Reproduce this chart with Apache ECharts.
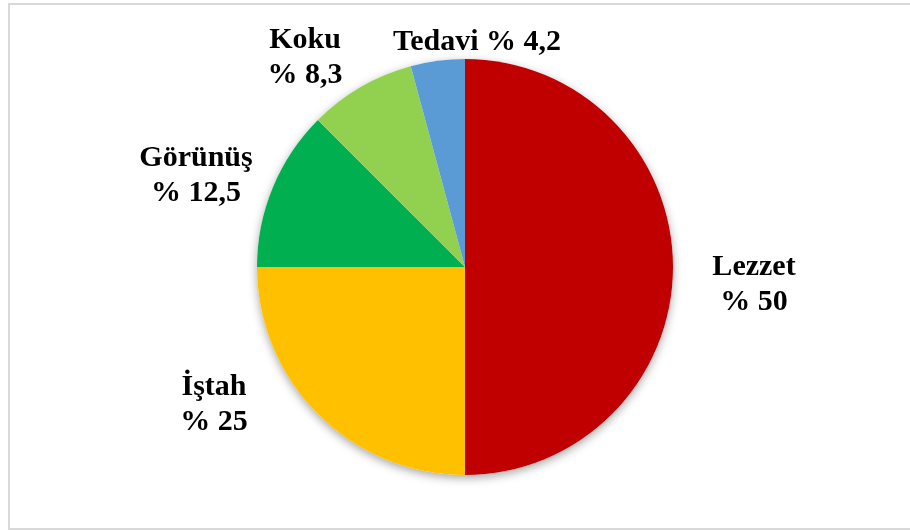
<!DOCTYPE html>
<html>
<head>
<meta charset="utf-8">
<style>
  html, body { margin: 0; padding: 0; background: #ffffff; }
  #chart { width: 910px; height: 531px; }
</style>
<script src="https://cdn.jsdelivr.net/npm/echarts@6/dist/echarts.min.js"></script>
</head>
<body>
<div id="chart"></div>
<script>
// Factors (percent shares), clockwise from 12 o'clock
const categories = ['Lezzet', 'İştah', 'Görünüş', 'Koku', 'Tedavi'];
const shares = [50, 25, 12.5, 8.3, 4.2];
const sliceColors = ['#C00000', '#FFC000', '#00B050', '#92D050', '#5B9BD5'];

const chart = echarts.init(document.getElementById('chart'), null, { renderer: 'canvas' });

const CENTER = [465, 267];
const RADIUS = 208;
const total = shares.reduce((a, b) => a + b, 0);

// Label block centres, given as offsets from the pie centre
const labelOffsets = {
  'Lezzet': [289, 18],
  'İştah': [-251, 138],
  'Görünüş': [-269, -91],
  'Koku': [-160, -209],
  'Tedavi': [12, -225]
};
const singleLine = { 'Tedavi': true };

const fmt = v => String(v).replace('.', ',');

const labelFont = {
  fontFamily: '"Liberation Serif", "Times New Roman", serif',
  fontWeight: 'bold',
  fontSize: 30,
  lineHeight: 35,
  color: '#000000'
};

chart.setOption({
  backgroundColor: '#ffffff',
  animation: false,
  graphic: [{
    type: 'rect',
    silent: true,
    shape: { x: 9, y: 4, width: 905, height: 525 },
    style: { fill: 'none', stroke: '#d9d9d9', lineWidth: 2 },
    z: 0
  }],
  series: [
    {
      // soft drop shadow under the whole disc
      type: 'pie',
      silent: true,
      center: CENTER,
      radius: RADIUS,
      z: 1,
      label: { show: false },
      labelLine: { show: false },
      itemStyle: {
        color: '#ffffff',
        shadowBlur: 10,
        shadowOffsetY: 3,
        shadowColor: 'rgba(0,0,0,0.35)'
      },
      data: [{ value: total, name: '' }]
    },
    {
      type: 'pie',
      center: CENTER,
      radius: RADIUS,
      startAngle: 90,
      clockwise: true,
      z: 2,
      avoidLabelOverlap: false,
      itemStyle: { borderWidth: 0 },
      label: Object.assign({
        show: true,
        position: 'outside',
        formatter: p => singleLine[p.name]
          ? p.name + ' % ' + fmt(p.value)
          : p.name + '\n% ' + fmt(p.value)
      }, labelFont),
      labelLine: { show: false },
      labelLayout: function (params) {
        const name = categories[params.dataIndex];
        const off = labelOffsets[name];
        return {
          x: CENTER[0] + off[0],
          y: CENTER[1] + off[1],
          align: 'center',
          verticalAlign: 'middle'
        };
      },
      data: categories.map((c, i) => ({
        name: c,
        value: shares[i],
        itemStyle: { color: sliceColors[i] }
      }))
    }
  ]
});
</script>
</body>
</html>
